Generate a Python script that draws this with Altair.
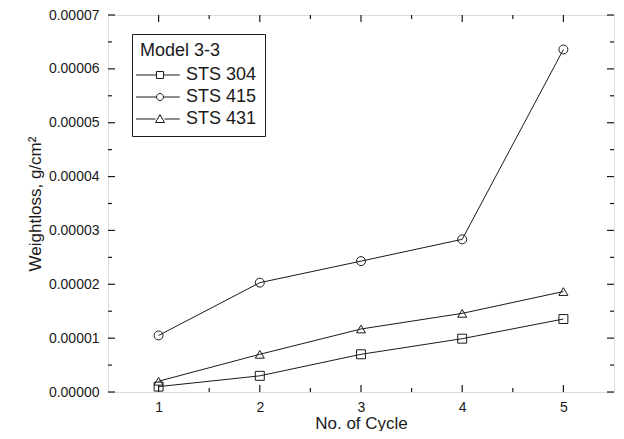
import altair as alt
import pandas as pd

cycles = [1, 2, 3, 4, 5]
series_names = ["STS 304", "STS 415", "STS 431"]
sts304 = [1.0e-6, 3.0e-6, 7.0e-6, 0.99e-5, 1.355e-5]
sts415 = [1.05e-5, 2.03e-5, 2.43e-5, 2.835e-5, 6.36e-5]
sts431 = [2.0e-6, 7.0e-6, 1.17e-5, 1.46e-5, 1.865e-5]

x_major = [1, 2, 3, 4, 5]
x_minor = [1.5, 2.5, 3.5, 4.5]
y_major = [0, 0.00001, 0.00002, 0.00003, 0.00004, 0.00005, 0.00006, 0.00007]
y_minor = [0.000005, 0.000015, 0.000025, 0.000035, 0.000045, 0.000055, 0.000065]

rows = []
for name, vals in zip(series_names, [sts304, sts415, sts431]):
    for c, v in zip(cycles, vals):
        rows.append({"cycle": c, "loss": v, "series": name})
df = pd.DataFrame(rows)

W, H = 506, 377
FONT = "Liberation Sans"
INK = "#1a1a1a"
MAJ, MIN = 7, 4

xscale = alt.Scale(domain=[0.5, 5.5], nice=False, zero=False)
yscale = alt.Scale(domain=[0, 0.00007], nice=False, zero=False)

base = alt.Chart(df)

main_x = alt.X("cycle:Q", scale=xscale, title="No. of Cycle",
               axis=alt.Axis(values=x_major, format="d", ticks=False, domain=False, grid=False,
                             labelFont=FONT, labelFontSize=14, labelColor=INK, labelPadding=8,
                             titleFont=FONT, titleFontSize=17, titleFontWeight="normal",
                             titleColor=INK, titlePadding=1))
main_y = alt.Y("loss:Q", scale=yscale, title="Weightloss, g/cm²",
               axis=alt.Axis(values=y_major, format=".5f", ticks=False, domain=False, grid=False,
                             labelFont=FONT, labelFontSize=14, labelColor=INK, labelPadding=9,
                             titleFont=FONT, titleFontSize=17, titleFontWeight="normal",
                             titleColor=INK, titlePadding=4))

lines = base.mark_line(color=INK, strokeWidth=1).encode(
    x=main_x, y=main_y, detail="series:N")

points = base.mark_point(filled=False, color=INK, strokeWidth=1, size=80, opacity=1).encode(
    x=alt.X("cycle:Q", scale=xscale, axis=None),
    y=alt.Y("loss:Q", scale=yscale, axis=None),
    shape=alt.Shape("series:N", scale=alt.Scale(domain=series_names,
                                                  range=["square", "circle", "triangle-up"]),
                    legend=None))

# legend glyphs: dash - marker - dash (custom symbol paths)
sq = "M-1.857,0H1.071M2.071,0H4.4M1.071,-0.5H2.071V0.5H1.071Z"
ci = "M-1.857,0H1.071M2.071,0H4.4M1.071,0A0.5,0.5 0 1,0 2.071,0A0.5,0.5 0 1,0 1.071,0Z"
tr = "M-1.857,0H0.93M2.21,0H4.4M0.93,0.5L1.571,-0.62L2.21,0.5Z"

legend_layer = base.mark_point(filled=False, opacity=0, size=0).encode(
    x=alt.X("cycle:Q", scale=xscale, axis=None),
    y=alt.Y("loss:Q", scale=yscale, axis=None),
    shape=alt.Shape("series:N", scale=alt.Scale(domain=series_names, range=[sq, ci, tr]),
                    legend=alt.Legend(title="Model 3-3", orient="none", legendX=24, legendY=19,
                                      strokeColor=INK, padding=8, fillColor="white",
                                      titleFont=FONT, titleFontSize=18, titleFontWeight="normal",
                                      titleColor=INK, titlePadding=6,
                                      labelFont=FONT, labelFontSize=18, labelColor=INK,
                                      symbolSize=196, symbolOpacity=1, symbolStrokeColor=INK,
                                      symbolStrokeWidth=1, symbolFillColor="transparent",
                                      rowPadding=4, labelOffset=28)))

# inward ticks on all four sides, positioned by the shared scales
xmaj_df = pd.DataFrame({"xv": x_major})
xmin_df = pd.DataFrame({"xv": x_minor})
ymaj_df = pd.DataFrame({"yv": y_major})
ymin_df = pd.DataFrame({"yv": y_minor})


def xticks(d, length):
    b = alt.Chart(d).mark_rule(color=INK, strokeWidth=1.2)
    xe = alt.X("xv:Q", scale=xscale, axis=None)
    return [b.encode(x=xe, y=alt.value(H), y2=alt.value(H - length)),
            b.encode(x=xe, y=alt.value(0), y2=alt.value(length))]


def yticks(d, length):
    b = alt.Chart(d).mark_rule(color=INK, strokeWidth=1.2)
    ye = alt.Y("yv:Q", scale=yscale, axis=None)
    return [b.encode(y=ye, x=alt.value(0), x2=alt.value(length)),
            b.encode(y=ye, x=alt.value(W), x2=alt.value(W - length))]


layers = [lines, points, legend_layer]
layers += xticks(xmaj_df, MAJ) + xticks(xmin_df, MIN) + yticks(ymaj_df, MAJ) + yticks(ymin_df, MIN)

chart = alt.layer(*layers).resolve_axis(
    x="independent", y="independent").resolve_scale(shape="independent").properties(
    width=W, height=H, autosize="none",
    padding={"left": 100, "top": 7, "right": 2, "bottom": 39}
).configure_view(stroke=INK, strokeWidth=1.3).configure(background="white")

chart.save("out.html", embed_options={"renderer": "svg", "actions": False})
